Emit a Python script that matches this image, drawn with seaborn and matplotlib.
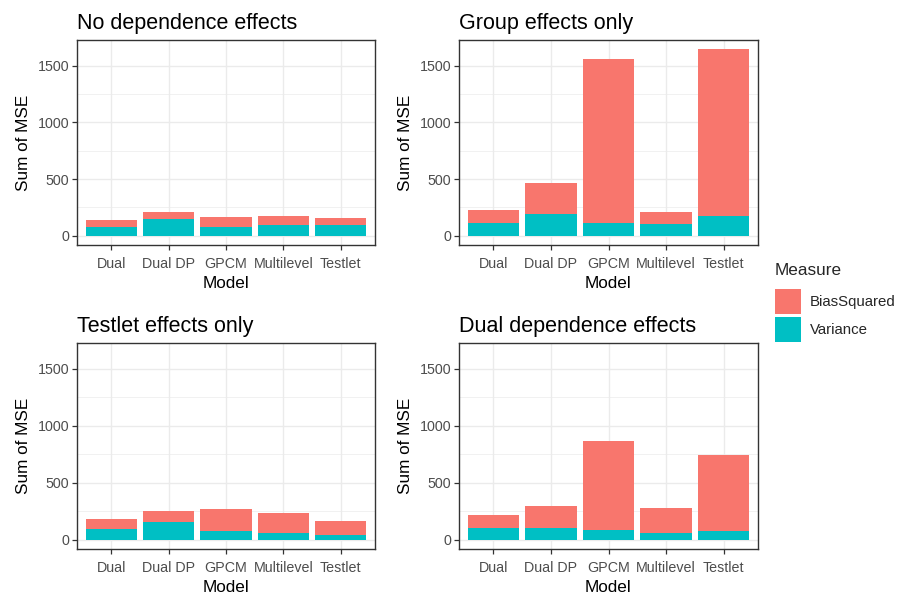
import matplotlib
matplotlib.use("Agg")
import matplotlib.pyplot as plt
from matplotlib.patches import Patch
import seaborn as sns
import pandas as pd

sns.set_theme(style="white")
plt.rcParams["font.family"] = ["Liberation Sans", "DejaVu Sans"]

models = ["Dual", "Dual DP", "GPCM", "Multilevel", "Testlet"]
titles = ["No dependence effects", "Group effects only",
          "Testlet effects only", "Dual dependence effects"]

# Sum of MSE split into squared bias and variance, per scenario
bias_no_dep = [62, 65, 86, 86, 62]
var_no_dep = [80, 145, 80, 92, 92]
bias_group = [118, 275, 1443, 109, 1467]
var_group = [113, 190, 113, 101, 178]
bias_testlet = [86, 95, 190, 176, 121]
var_testlet = [92, 157, 77, 56, 45]
bias_dual = [119, 196, 775, 223, 666]
var_dual = [101, 101, 89, 56, 77]

bias_sets = [bias_no_dep, bias_group, bias_testlet, bias_dual]
var_sets = [var_no_dep, var_group, var_testlet, var_dual]

RED = "#F8766D"
TEAL = "#00BFC4"
GRID = "#EBEBEB"
BORDER = "#333333"
TICKTXT = "#4D4D4D"

fig = plt.figure(figsize=(9.03, 5.99), dpi=100)
boxes = [
    (77, 40, 375, 245),
    (459, 40, 758, 245),
    (77, 343, 375, 549),
    (459, 343, 758, 549),
]
W, H = 903, 599

ymax = 1645 * 1.05
for i, (l, t, r, b) in enumerate(boxes):
    ax = fig.add_axes([l / W, 1 - b / H, (r - l) / W, (b - t) / H])
    df = pd.DataFrame({
        "Model": models,
        "BiasSquared": bias_sets[i],
        "Variance": var_sets[i],
    })
    df["Total"] = df["BiasSquared"] + df["Variance"]
    sns.barplot(data=df, x="Model", y="Total", color=RED, width=0.9,
                saturation=1, linewidth=0, ax=ax, zorder=3)
    sns.barplot(data=df, x="Model", y="Variance", color=TEAL, width=0.9,
                saturation=1, linewidth=0, ax=ax, zorder=4)
    ax.set_xlim(-0.6, 4.6)
    ax.set_ylim(-1645 * 0.05, ymax)
    ax.set_yticks([0, 500, 1000, 1500])
    ax.set_yticks([250, 750, 1250], minor=True)
    ax.grid(True, which="major", color=GRID, linewidth=1.0, zorder=0)
    ax.grid(True, which="minor", axis="y", color=GRID, linewidth=0.5, zorder=0)
    ax.set_axisbelow(True)
    for s in ax.spines.values():
        s.set_color(BORDER)
        s.set_linewidth(1.0)
        s.set_zorder(6)
    ax.tick_params(axis="both", which="major", length=3.5, width=0.9,
                   color=BORDER, labelcolor=TICKTXT, labelsize=10.3, pad=2,
                   bottom=True, left=True)
    ax.tick_params(axis="x", which="major", pad=5)
    ax.tick_params(axis="y", which="minor", length=0)
    ax.set_xlabel("Model", fontsize=12.3, color="black", labelpad=4)
    ax.set_ylabel("Sum of MSE", fontsize=12.3, color="black", labelpad=5)
    ax.set_title(titles[i], fontsize=15.5, loc="left", color="black", pad=8)

handles = [Patch(facecolor=RED, edgecolor="none", label="BiasSquared"),
           Patch(facecolor=TEAL, edgecolor="none", label="Variance")]
leg = fig.legend(handles=handles, title="Measure", loc="upper left",
                 bbox_to_anchor=(775 / W, 1 - 263 / H), frameon=False,
                 fontsize=10.8, title_fontsize=12.3, handlelength=1.75,
                 handleheight=2.2, handletextpad=0.6, labelspacing=0.18,
                 borderaxespad=0, borderpad=0)
leg._legend_box.align = "left"
leg._legend_box.sep = 8

fig.savefig("out.png", dpi=100)
